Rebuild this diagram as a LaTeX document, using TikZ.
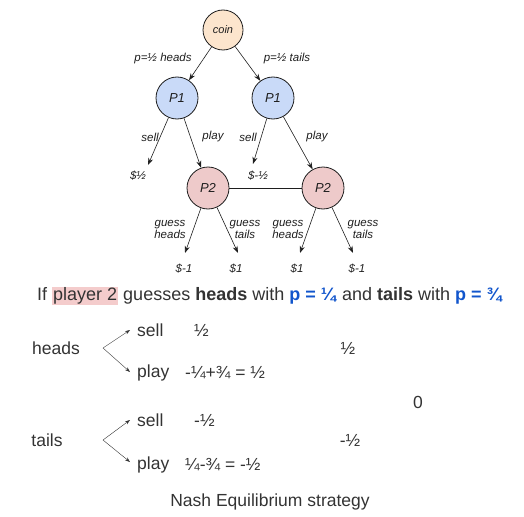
\documentclass[tikz,border=0pt]{standalone}
\usepackage{fontspec}
\setmainfont{Liberation Sans}
\usetikzlibrary{arrows.meta}
\definecolor{coinfill}{HTML}{FCE5CD}
\definecolor{pone}{HTML}{C9DAF8}
\definecolor{ptwo}{HTML}{EECACA}
\definecolor{ink}{HTML}{1E1E1E}
\definecolor{txt}{HTML}{333333}
\definecolor{pblue}{HTML}{1155CC}
\definecolor{hilite}{HTML}{F4CCCC}
\newcommand{\hand}{\itshape\fontsize{11.5}{12}\selectfont}
\newcommand{\plain}{\fontsize{17.5}{19}\selectfont}
\begin{document}
\begin{tikzpicture}[x=1pt,y=-1pt,
  player/.style={circle,draw=ink,thick,minimum size=42pt,inner sep=0pt,font=\itshape\fontsize{13}{14}\selectfont,text=ink},
  lbl/.style={font=\hand,text=ink,align=center,inner sep=1pt},
  move/.style={draw=ink,semithick,-{Stealth[length=7pt,width=5pt]}},
  txtnode/.style={font=\plain,text=txt,inner sep=0pt},
  choice/.style={draw=txt,-{Stealth[length=5pt,width=3.5pt]}}]
\useasboundingbox (0,0) rectangle (524,516);
% game tree
\node[player,fill=coinfill,minimum size=40pt,font=\itshape\fontsize{11}{12}\selectfont] (coin) at (223,30) {coin};
\node[player,fill=pone] (p1h) at (177,98) {P1};
\node[player,fill=pone] (p1t) at (273,98) {P1};
\node[player,fill=ptwo] (p2h) at (208,188) {P2};
\node[player,fill=ptwo] (p2t) at (323,188) {P2};
\draw[move] (coin) -- (p1h);
\draw[move] (coin) -- (p1t);
\node[lbl] (lheads) at (163,59) {p=½ heads};
\node[lbl] (ltails) at (287,59) {p=½ tails};
\node[lbl] (lsellh) at (150,137) {sell};
\node[lbl] (lplayh) at (213,137) {play};
\node[lbl] (lsellt) at (248,137) {sell};
\node[lbl] (lplayt) at (317,137) {play};
\coordinate (endsh) at (148,165);
\coordinate (endst) at (253,164);
\draw[move] (p1h) -- (endsh);
\draw[move] (p1h) -- (p2h);
\draw[move] (p1t) -- (endst);
\draw[move] (p1t) -- (p2t);
\node[lbl] (paysh) at (138,176) {\$½};
\node[lbl] (payst) at (258,176) {\$-½};
\draw[ink,thick] (p2h) -- (p2t);
\node[lbl] (lgh1) at (170,229) {guess\\heads};
\node[lbl] (lgt1) at (245,229) {guess\\tails};
\node[lbl] (lgh2) at (288,229) {guess\\heads};
\node[lbl] (lgt2) at (363,229) {guess\\tails};
\coordinate (end1) at (185,253);
\coordinate (end2) at (238,253);
\coordinate (end3) at (300,253);
\coordinate (end4) at (353,253);
\draw[move] (p2h) -- (end1);
\draw[move] (p2h) -- (end2);
\draw[move] (p2t) -- (end3);
\draw[move] (p2t) -- (end4);
\node[lbl] (pay1) at (184,269) {\$-1};
\node[lbl] (pay2) at (236,269) {\$1};
\node[lbl] (pay3) at (297,269) {\$1};
\node[lbl] (pay4) at (357,269) {\$-1};
% expected payoffs
\node[txtnode,font=\fontsize{18}{20}\selectfont] (title) at (270,296) {If {\setlength{\fboxsep}{1pt}\colorbox{hilite}{player 2}} guesses \textbf{heads} with \textcolor{pblue}{\textbf{p = ¼}} and \textbf{tails} with \textcolor{pblue}{\textbf{p = ¾}}};
\node[txtnode] (heads) at (56,348) {heads};
\node[txtnode,anchor=west] (hsell) at (137,330) {sell};
\node[txtnode,anchor=west] (hsellv) at (194,330) {½};
\node[txtnode,anchor=west] (hplay) at (137,373) {play};
\node[txtnode,anchor=west] (hplayv) at (185,373) {-¼+¾ = ½};
\node[txtnode] (hval) at (348,348) {½};
\coordinate (hfork) at (103,348);
\coordinate (hup) at (130,330);
\coordinate (hdown) at (130,372);
\draw[choice] (hfork) -- (hup);
\draw[choice] (hfork) -- (hdown);
\node[txtnode] (total) at (418,402) {0};
\node[txtnode] (tails) at (47,440) {tails};
\node[txtnode,anchor=west] (tsell) at (137,420) {sell};
\node[txtnode,anchor=west] (tsellv) at (194,420) {-½};
\node[txtnode,anchor=west] (tplay) at (137,465) {play};
\node[txtnode,anchor=west] (tplayv) at (185,465) {¼-¾ = -½};
\node[txtnode] (tval) at (350,440) {-½};
\coordinate (tfork) at (103,440);
\coordinate (tup) at (130,420);
\coordinate (tdown) at (130,462);
\draw[choice] (tfork) -- (tup);
\draw[choice] (tfork) -- (tdown);
\node[txtnode] (nash) at (270,502) {Nash Equilibrium strategy};
\end{tikzpicture}
\end{document}
